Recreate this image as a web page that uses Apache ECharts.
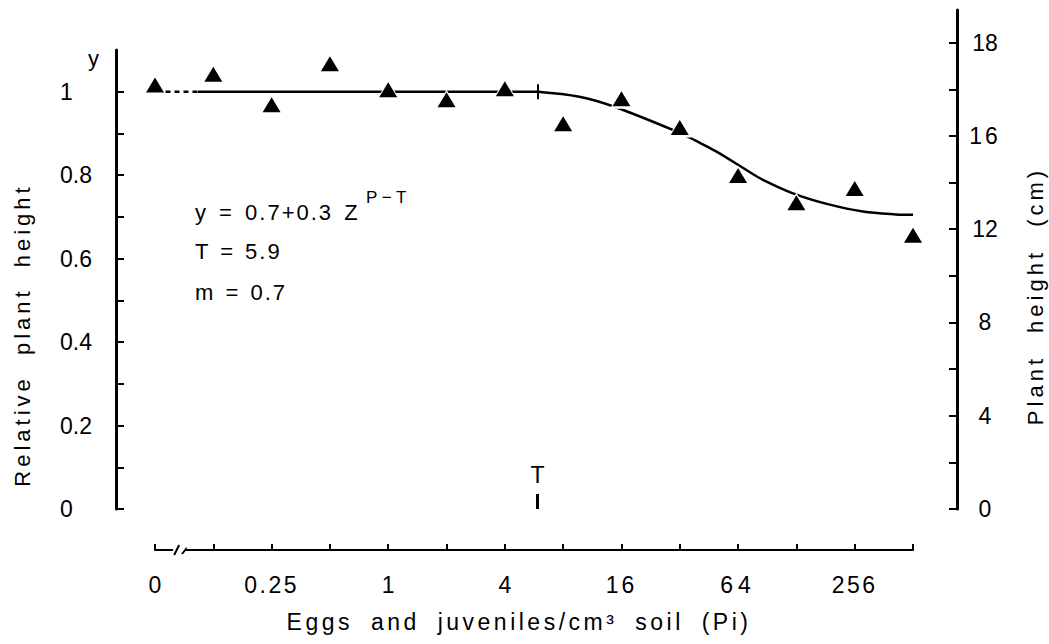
<!DOCTYPE html>
<html><head><meta charset="utf-8">
<script src="https://cdn.jsdelivr.net/npm/echarts@6/dist/echarts.min.js"></script>
<style>html,body{margin:0;padding:0;background:#fff}#c{width:1049px;height:644px}</style>
</head><body><div id="c"></div>
<script>
// ---------- data ----------
// nematode density P (eggs and juveniles / cm3 soil); 0 is drawn at the broken-axis slot
const densityP = [0, 0.125, 0.25, 0.5, 1, 2, 4, 8, 16, 32, 64, 128, 256, 512];
const relativeHeight = [1.016, 1.042, 0.969, 1.067, 1.005, 0.981, 1.007, 0.923, 0.983, 0.914, 0.799, 0.734, 0.768, 0.656];

// fitted curve y = 0.7 + 0.3 z^(P-T)
const dashedP = [0.0708, 0.104];
const dashedY = [1, 1];
const flatP = [0.104, 5.9];
const flatY = [1, 1];
const curveP = [5.9, 9.7, 14.7, 31.8, 38.9, 49.3, 70.3, 86, 127, 188, 282, 417, 512];
const curveY = [1.0, 0.988, 0.964, 0.902, 0.882, 0.857, 0.813, 0.789, 0.754, 0.730, 0.713, 0.706, 0.705];
const thresholdT = 5.9;

// ticks
const xTickP = [0, 0.25, 1, 4, 16, 64, 256];
const xTickLabels = ['0', '0.25', '1', '4', '16', '64', '256'];
const xMinorP = [0, 0.125, 0.25, 0.5, 1, 2, 4, 8, 16, 32, 64, 128, 256, 512];
const leftTickValues = [0, 0.2, 0.4, 0.6, 0.8, 1];
const leftTickLabels = ['0', '0.2', '0.4', '0.6', '0.8', '1'];
const leftMinorValues = [0, 0.1, 0.2, 0.3, 0.4, 0.5, 0.6, 0.7, 0.8, 0.9, 1.0];
const rightTickValues = [0, 4, 8, 12, 16, 20];
const rightTickLabels = ['0', '4', '8', '12', '16', '18'];
const rightMinorValues = [0, 2, 4, 6, 8, 10, 12, 14, 16, 18, 20];

// ---------- helpers ----------
const ZERO_SLOT = -4; // log2 position used for P = 0
const lx = p => (p === 0 ? ZERO_SLOT : Math.log2(p));
const pairs = (xs, ys) => xs.map((p, i) => [lx(p), ys[i]]);
const pick = (vals, labels) => v => {
  const i = vals.findIndex(t => Math.abs(t - v) < 1e-6);
  return i < 0 ? '' : labels[i];
};
const FONT = '"Liberation Sans", Arial, Helvetica, sans-serif';
const tLog = Math.log2(thresholdT);
const pointData = pairs(densityP, relativeHeight);

const chart = echarts.init(document.getElementById('c'), null, { renderer: 'svg' });

const option = {
  animation: false,
  backgroundColor: '#fff',
  textStyle: { fontFamily: FONT, color: '#000' },
  grid: [
    { left: 155, right: 136, top: 50, bottom: 135, outerBoundsMode: 'none' },
    { left: 155, right: 136, top: 10, bottom: 135, outerBoundsMode: 'none' }
  ],
  xAxis: [
    {
      type: 'value', gridIndex: 0, min: -4, max: 9, position: 'bottom', offset: 41,
      axisLine: { show: true, onZero: false, lineStyle: { color: '#000', width: 2 } },
      axisTick: { show: true, inside: true, length: 6, lineStyle: { color: '#000', width: 2 },
        customValues: xMinorP.map(lx) },
      axisLabel: { show: true, margin: 23, fontSize: 23, color: '#000', fontFamily: FONT,
        customValues: xTickP.map(lx), formatter: pick(xTickP.map(lx), xTickLabels) },
      splitLine: { show: false }
    },
    { type: 'value', gridIndex: 1, min: -4, max: 9, show: false, axisLine: { onZero: false } }
  ],
  yAxis: [
    {
      type: 'value', gridIndex: 0, min: 0, max: 1.1, position: 'left', offset: 39,
      axisLine: { show: true, onZero: false, lineStyle: { color: '#000', width: 3 } },
      axisTick: { show: true, inside: true, length: 8, lineStyle: { color: '#000', width: 2 },
        customValues: leftMinorValues },
      axisLabel: { show: true, margin: 56, align: 'left', fontSize: 23, color: '#000', fontFamily: FONT,
        customValues: leftTickValues, formatter: pick(leftTickValues, leftTickLabels) },
      splitLine: { show: false }
    },
    {
      type: 'value', gridIndex: 1, min: 0, max: 21.4, position: 'right', offset: 44,
      axisLine: { show: true, onZero: false, lineStyle: { color: '#000', width: 3 } },
      axisTick: { show: true, inside: true, length: 8, lineStyle: { color: '#000', width: 2 },
        customValues: rightMinorValues },
      axisLabel: { show: true, margin: 28, align: 'center', fontSize: 23, color: '#000', fontFamily: FONT,
        customValues: rightTickValues, formatter: pick(rightTickValues, rightTickLabels) },
      splitLine: { show: false }
    }
  ],
  series: [
    {
      name: 'dashed', type: 'line', xAxisIndex: 0, yAxisIndex: 0, showSymbol: false, z: 2,
      data: pairs(dashedP, dashedY),
      lineStyle: { color: '#000', width: 2.5, type: [5, 4] }
    },
    {
      name: 'flat', type: 'line', xAxisIndex: 0, yAxisIndex: 0, showSymbol: false, z: 2,
      data: pairs(flatP, flatY),
      lineStyle: { color: '#000', width: 2.5 },
      markLine: {
        silent: true, symbol: ['none', 'none'], animation: false,
        lineStyle: { color: '#000', type: 'solid' },
        label: { show: false },
        data: [
          [{ coord: [tLog, 0.982], lineStyle: { width: 2 }, label: { show: false } },
           { coord: [tLog, 1.018] }],
          [{ coord: [tLog, 0], lineStyle: { width: 3 },
             label: { show: true, position: 'end', formatter: 'T', fontSize: 23, color: '#000', fontFamily: FONT, distance: 7 } },
           { coord: [tLog, 0.036] }]
        ]
      }
    },
    {
      name: 'curve', type: 'line', xAxisIndex: 0, yAxisIndex: 0, showSymbol: false, z: 2,
      smooth: 0.35,
      data: pairs(curveP, curveY),
      lineStyle: { color: '#000', width: 2.5 }
    },
    {
      name: 'halo', type: 'scatter', xAxisIndex: 0, yAxisIndex: 0, z: 3, silent: true,
      symbol: 'triangle', symbolSize: [23, 20],
      itemStyle: { color: '#fff', opacity: 1 },
      data: pointData
    },
    {
      name: 'Relative plant height', type: 'scatter', xAxisIndex: 0, yAxisIndex: 0, z: 4,
      symbol: 'triangle', symbolSize: [18, 15],
      itemStyle: { color: '#000', opacity: 1 },
      data: pointData
    }
  ]
};
chart.setOption(option);

// texts (axis titles and equation)
const txt = (id, text, x, y, size, align, rot) => ({
  type: 'text', id, x, y, rotation: rot || 0, silent: true, z: 10,
  style: { text, fill: '#000', font: size + 'px ' + FONT,
    textAlign: align || 'left', align: align || 'left',
    textVerticalAlign: 'middle', verticalAlign: 'middle' }
});

// broken x axis marker, positioned through the axis scale
const axisY = chart.convertToPixel({ yAxisIndex: 0 }, 0) + 41;
const bx0 = chart.convertToPixel({ xAxisIndex: 0 }, -3.69);
const bx1 = chart.convertToPixel({ xAxisIndex: 0 }, -3.48);
const bxa = chart.convertToPixel({ xAxisIndex: 0 }, -3.62);
const bxb = chart.convertToPixel({ xAxisIndex: 0 }, -3.52);

chart.setOption({
  graphic: [
    { type: 'rect', id: 'brk', z: 20, shape: { x: bx0, y: axisY - 5, width: bx1 - bx0, height: 10 }, style: { fill: '#fff' } },
    { type: 'line', id: 's1', z: 21, shape: { x1: bxa - 3, y1: axisY + 5, x2: bxa + 2, y2: axisY - 5 }, style: { stroke: '#000', lineWidth: 2 } },
    { type: 'polyline', id: 's2', z: 21, shape: { points: [[bxb - 1, axisY + 4], [bxb + 3, axisY - 1], [bx1 + 1, axisY]] }, style: { stroke: '#000', lineWidth: 2, fill: null } },
    txt('ylab', 'y', 88, 58, 22),
    txt('ltitle', 'Relative plant height', 22, 335, 22, 'center', Math.PI / 2),
    txt('rtitle', 'Plant height (cm)', 1035, 296, 22, 'center', Math.PI / 2),
    txt('xtitle', 'Eggs and juveniles/cm³ soil (Pi)', 519, 622, 23, 'center'),
    txt('eq1', 'y = 0.7+0.3 Z', 195, 212, 22),
    txt('eq1sup', 'P − T', 366, 197, 17),
    txt('eq2', 'T = 5.9', 195, 251, 22),
    txt('eq3', 'm = 0.7', 195, 292, 22)
  ]
});

// typeset spacing of the original figure
const spacing = {
  'Relative plant height': [4, 10],
  'Plant height (cm)': [4, 12],
  'Eggs and juveniles/cm³ soil (Pi)': [3.5, 8],
  'y = 0.7+0.3 Z': [2, 3],
  'T = 5.9': [2, 2],
  'm = 0.7': [2, 2],
  '0.25': [2.5, 0], '16': [3, 0], '64': [5, 0], '256': [2.5, 0]
};
function applySpacing() {
  document.querySelectorAll('#c svg text').forEach(t => {
    const s = spacing[t.textContent];
    if (s) {
      t.setAttribute('letter-spacing', s[0]);
      t.setAttribute('word-spacing', s[1]);
    }
  });
}
applySpacing();
chart.on('finished', applySpacing);
</script>
</body></html>
